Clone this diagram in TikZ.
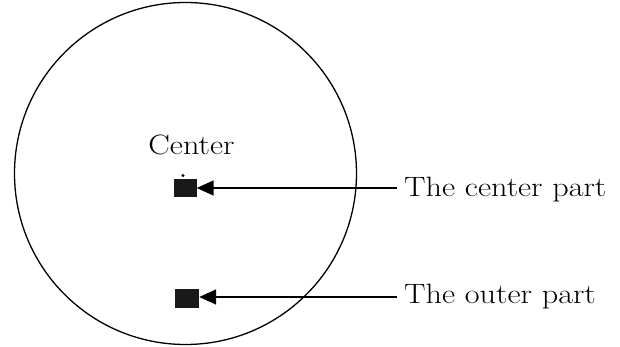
\documentclass[tikz,border=0pt]{standalone}
\usepackage{fontspec}
\setmainfont{Latin Modern Roman}[FakeStretch=1.15]
\usetikzlibrary{arrows.meta}
\begin{document}
\begin{tikzpicture}[x=1pt,y=-1pt,
  lbl/.style={font=\fontsize{28}{30}\selectfont, inner sep=0pt},
  blk/.style={fill=black!90, draw=none, minimum width=23pt, minimum height=18pt, inner sep=0pt},
  pointer/.style={line width=1.6pt, -{Triangle[length=17pt,width=15pt]}}]
\useasboundingbox (0,0) rectangle (620,347);
\node[draw, circle, line width=1.3pt, minimum size=342pt, inner sep=0pt] (ring) at (185.5,173.5) {};
\node[lbl] (ctr) at (191.5,145) {Center};
\node[blk] (cbox) at (185,188) {};
\fill (183,175.5) circle (1.6pt) coordinate (dot);
\node[blk, minimum width=24pt, minimum height=19pt] (obox) at (187,298) {};
\node[lbl, anchor=west] (tc) at (404,190) {The center part};
\node[lbl, anchor=west] (to) at (404,297) {The outer part};
\draw[pointer] (tc.west) ++(-7,-2) coordinate (a) -- (a -| cbox.east) ;
\draw[pointer] (to.west) ++(-7,0) coordinate (b) -- (b -| obox.east);
\end{tikzpicture}
\end{document}
